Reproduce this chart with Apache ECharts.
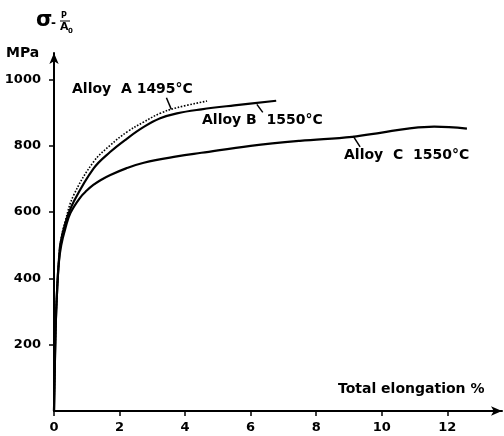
<!DOCTYPE html>
<html>
<head>
<meta charset="utf-8">
<script src="https://cdn.jsdelivr.net/npm/echarts@6/dist/echarts.min.js"></script>
<style>
  html, body { margin: 0; padding: 0; background: #fff; }
  #chart { width: 504px; height: 436px; }
</style>
</head>
<body>
<div id="chart"></div>
<script>
// stress-strain curves, values (elongation %, MPa)
var alloyA = [[0,0],[0.05,250],[0.1,375],[0.15,455],[0.2,510],[0.35,575],[0.6,651],[1.21,752],[1.72,802],[2.23,842],[2.74,872],[3.24,898],[3.75,915],[4.67,935]];
var alloyB = [[0,0],[0.05,250],[0.1,375],[0.15,455],[0.2,508],[0.35,568],[0.6,631],[1.21,732],[1.72,782],[2.23,822],[2.74,857],[3.24,883],[3.75,898],[4.5,910],[5.5,922],[6.78,936]];
var alloyC = [[0,0],[0.05,250],[0.1,375],[0.15,450],[0.22,500],[0.35,552],[0.5,597],[0.8,644],[1.0,665],[1.2,682],[1.43,697],[1.72,712],[2.2,732],[2.74,749],[3.75,768],[4.5,779],[6.0,800],[7.5,815],[9.1,827],[10.0,840],[10.8,852],[11.6,858],[12.6,852]];
var xTicks = [0, 2, 4, 6, 8, 10, 12];
var yTicks = [200, 400, 600, 800, 1000];

// leader lines from each curve to its label
var leaderA = [[3.43, 945], [3.58, 910]];
var leaderB = [[6.19, 925], [6.37, 901]];
var leaderC = [[9.13, 829], [9.34, 797]];

var FONT = 'DejaVu Sans';
var INK = '#000';

function leader(pts) {
    return {
        symbol: 'none',
        silent: true,
        label: { show: false },
        lineStyle: { color: INK, width: 1.5, type: 'solid' },
        data: [[{ coord: pts[0] }, { coord: pts[1] }]]
    };
}

function curve(name, data, type, width) {
    return {
        name: name,
        type: 'line',
        data: data,
        showSymbol: false,
        smooth: 0.4,
        lineStyle: { color: INK, width: width, type: type },
        z: 3
    };
}

function txt(str, left, top, size) {
    return {
        type: 'text',
        left: left,
        top: top,
        style: { text: str, fill: INK, font: 'bold ' + size + 'px "' + FONT + '"' }
    };
}

var chart = echarts.init(document.getElementById('chart'));

var axisCommon = {
    axisLine: { show: true, symbol: ['none', 'arrow'], symbolSize: [7, 11], lineStyle: { color: INK, width: 2 } },
    axisTick: { show: true, length: 5, lineStyle: { color: INK, width: 1.5 } },
    splitLine: { show: false },
    axisLabel: { color: INK, fontFamily: FONT, fontWeight: 'bold', fontSize: 13 }
};

chart.setOption({
    animation: false,
    backgroundColor: '#fff',
    grid: { left: 54, right: 2, top: 53, bottom: 25 },
    xAxis: Object.assign({}, axisCommon, {
        type: 'value',
        min: 0,
        max: 13.67,
        interval: 2,
        axisLabel: Object.assign({}, axisCommon.axisLabel, {
            margin: 10,
            showMaxLabel: false,
            formatter: function (v) { return xTicks.indexOf(v) >= 0 ? String(v) : ''; }
        })
    }),
    yAxis: Object.assign({}, axisCommon, {
        type: 'value',
        min: 0,
        max: 1080,
        interval: 200,
        axisLabel: Object.assign({}, axisCommon.axisLabel, {
            margin: 13,
            showMinLabel: false,
            showMaxLabel: false,
            formatter: function (v) { return yTicks.indexOf(v) >= 0 ? String(v) : ''; }
        })
    }),
    series: [
        Object.assign(curve('Alloy A 1495°C', alloyA, 'dotted', 1.6), { markLine: leader(leaderA) }),
        Object.assign(curve('Alloy B 1550°C', alloyB, 'solid', 2.2), { markLine: leader(leaderB) }),
        Object.assign(curve('Alloy C 1550°C', alloyC, 'solid', 2.2), { markLine: leader(leaderC) })
    ],
    graphic: [
        txt('Alloy  A 1495°C', 72, 82, 14),
        txt('Alloy B  1550°C', 202, 113, 14),
        txt('Alloy  C  1550°C', 344, 148, 14),
        txt('Total elongation %', 338, 382, 14),
        txt('MPa', 6, 46, 14),
        txt('σ', 36, 10, 21),
        txt('-', 51, 18, 12),
        txt('P', 61, 12, 8),
        { type: 'line', shape: { x1: 60, y1: 21, x2: 70, y2: 21 }, style: { stroke: INK, lineWidth: 1 } },
        txt('A', 60, 22, 11),
        txt('0', 68, 28, 7)
    ]
});
</script>
</body>
</html>
